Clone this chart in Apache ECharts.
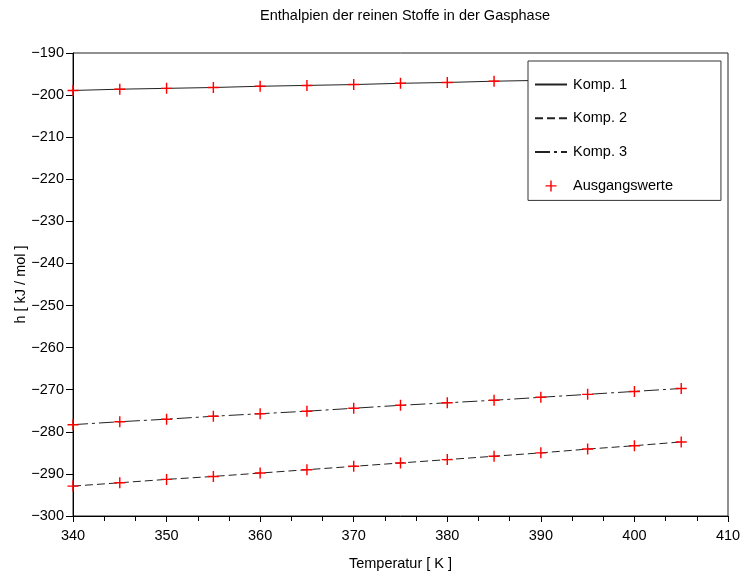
<!DOCTYPE html>
<html>
<head>
<meta charset="utf-8">
<script src="https://cdn.jsdelivr.net/npm/echarts@6/dist/echarts.min.js"></script>
<style>
  html, body { margin: 0; padding: 0; background: #fff; }
  #chart { width: 740px; height: 574px; }
</style>
</head>
<body>
<div id="chart"></div>
<script>
// Temperatures [K]
const temperatures = [340, 345, 350, 355, 360, 365, 370, 375, 380, 385, 390, 395, 400, 405];

// Gas-phase enthalpies [kJ/mol] of the pure components
const komp1 = [-198.9, -198.6, -198.4, -198.2, -197.9, -197.7, -197.5, -197.2, -197.0, -196.7, -196.5, -196.2, -196.0, -195.7];
const komp2 = [-292.9, -292.1, -291.3, -290.6, -289.8, -289.0, -288.2, -287.4, -286.6, -285.8, -285.0, -284.1, -283.3, -282.4];
const komp3 = [-278.3, -277.6, -277.0, -276.3, -275.7, -275.1, -274.4, -273.7, -273.1, -272.5, -271.8, -271.1, -270.4, -269.7];

const seriesNames = ['Komp. 1', 'Komp. 2', 'Komp. 3', 'Ausgangswerte'];

const FONT = '"Liberation Sans", Arial, Helvetica, sans-serif';
const FS = 14.5;
const pairs = (ys) => temperatures.map((t, i) => [t, ys[i]]);
const minus = (v) => String(v).replace('-', '\u2212');

// plus-shaped marker made of two thin bars
const plusSymbol = 'path://M4.35 0h1.3v10h-1.3z M0 4.35h10v1.3h-10z';

// line entries in the legend show only their line, no symbol
const hiddenSymbol = { color: 'transparent', borderColor: 'transparent', borderWidth: 0, opacity: 0 };

const chart = echarts.init(document.getElementById('chart'), null, { renderer: 'canvas' });

chart.setOption({
  animation: false,
  backgroundColor: '#ffffff',
  textStyle: { fontFamily: FONT, color: '#000' },
  title: {
    text: 'Enthalpien der reinen Stoffe in der Gasphase',
    left: 400,
    top: 3,
    textAlign: 'center',
    textStyle: { fontFamily: FONT, fontSize: FS, fontWeight: 'normal', color: '#000' }
  },
  grid: {
    left: 73, right: 12, top: 53, bottom: 58,
    outerBoundsMode: 'none',
    containLabel: false,
    show: true, borderColor: '#222', borderWidth: 1, backgroundColor: 'transparent'
  },
  legend: {
    orient: 'vertical',
    left: 528,
    top: 61,
    z: 10,
    padding: [16, 48, 7, 6],
    itemGap: 18.8,
    itemWidth: 32,
    itemHeight: 11,
    backgroundColor: '#ffffff',
    borderColor: '#333',
    borderWidth: 1,
    borderRadius: 0,
    textStyle: { fontFamily: FONT, fontSize: FS, color: '#000', lineHeight: 14, padding: [0, 0, 0, 1] },
    data: [
      { name: seriesNames[0], itemStyle: hiddenSymbol },
      { name: seriesNames[1], itemStyle: hiddenSymbol },
      { name: seriesNames[2], itemStyle: hiddenSymbol },
      { name: seriesNames[3] }
    ]
  },
  xAxis: {
    type: 'value',
    min: 340, max: 410, interval: 10,
    name: 'Temperatur [ K ]',
    nameLocation: 'middle',
    nameGap: 40.5,
    nameMoveOverlap: false,
    nameTextStyle: { fontFamily: FONT, fontSize: FS, color: '#000' },
    axisLine: { show: true, lineStyle: { color: '#000', width: 1 } },
    axisTick: { show: true, inside: false, length: 6, lineStyle: { color: '#000' } },
    minorTick: { show: true, splitNumber: 3, length: 5, lineStyle: { color: '#000' } },
    axisLabel: { fontFamily: FONT, fontSize: FS, color: '#000', margin: 12.5 },
    splitLine: { show: false }
  },
  yAxis: {
    type: 'value',
    min: -300, max: -190, interval: 10,
    name: 'h [ kJ / mol ]',
    nameLocation: 'middle',
    nameGap: 45,
    nameMoveOverlap: false,
    nameRotate: 90,
    nameTextStyle: { fontFamily: FONT, fontSize: FS, color: '#000' },
    axisLine: { show: true, lineStyle: { color: '#000', width: 1 } },
    axisTick: { show: true, inside: false, length: 7, lineStyle: { color: '#000' } },
    axisLabel: { fontFamily: FONT, fontSize: FS, color: '#000', margin: 9, formatter: minus },
    splitLine: { show: false }
  },
  series: [
    {
      name: 'Komp. 1', type: 'line', data: pairs(komp1), symbol: 'none', z: 2,
      lineStyle: { color: '#222', width: 1, type: 'solid' }, itemStyle: { color: '#222' }
    },
    {
      name: 'Komp. 2', type: 'line', data: pairs(komp2), symbol: 'none', z: 2,
      lineStyle: { color: '#222', width: 1, type: [8, 4] }, itemStyle: { color: '#222' }
    },
    {
      name: 'Komp. 3', type: 'line', data: pairs(komp3), symbol: 'none', z: 2,
      lineStyle: { color: '#222', width: 1, type: [15, 4, 3, 4] }, itemStyle: { color: '#222' }
    },
    {
      name: 'Ausgangswerte', type: 'scatter', z: 3,
      symbol: plusSymbol, symbolSize: 11,
      itemStyle: { color: '#ff0000', opacity: 1 },
      data: [].concat(pairs(komp1), pairs(komp2), pairs(komp3))
    }
  ]
});
</script>
</body>
</html>
